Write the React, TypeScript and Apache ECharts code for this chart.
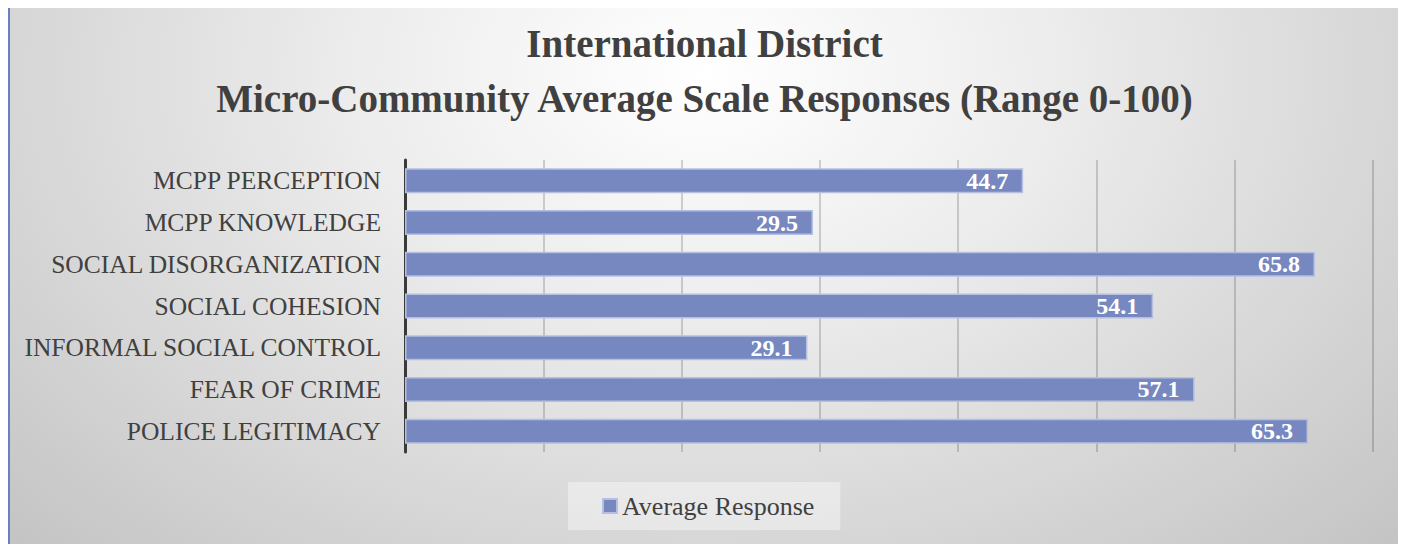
import React, { useEffect, useRef } from "react";
import * as echarts from "echarts";

const categories = [
  "MCPP PERCEPTION",
  "MCPP KNOWLEDGE",
  "SOCIAL DISORGANIZATION",
  "SOCIAL COHESION",
  "INFORMAL SOCIAL CONTROL",
  "FEAR OF CRIME",
  "POLICE LEGITIMACY",
];
const averageResponse = [44.7, 29.5, 65.8, 54.1, 29.1, 57.1, 65.3];
const titleLines = [
  "International District",
  "Micro-Community Average Scale Responses (Range 0-100)",
];
const seriesName = "Average Response";

const FONT = "'Liberation Serif', 'DejaVu Serif', serif";

export default function App() {
  const ref = useRef<HTMLDivElement>(null);
  useEffect(() => {
    if (!ref.current) return;
    const chart = echarts.init(ref.current, null, { renderer: "svg" });
    chart.setOption({
      animation: false,
      backgroundColor: "transparent",
      title: {
        text: titleLines.join("\n"),
        left: "center",
        top: 3,
        textStyle: {
          fontFamily: FONT,
          fontSize: 39,
          fontWeight: "bold",
          color: "#404040",
          lineHeight: 55,
        },
      },
      legend: {
        data: [seriesName],
        left: 558,
        top: 474,
        backgroundColor: "rgba(255,255,255,0.4)",
        padding: [11, 26, 11, 34],
        itemWidth: 14,
        itemHeight: 14,
        icon: "rect",
        itemGap: 4,
        textStyle: { fontFamily: FONT, fontSize: 26, color: "#404040" },
      },
      grid: { left: 395, top: 152, height: 292, right: 26 },
      xAxis: {
        type: "value",
        min: 0,
        max: 70,
        interval: 10,
        axisLabel: { show: false },
        axisLine: { show: false },
        axisTick: { show: false },
        splitLine: { show: true, lineStyle: { color: "rgba(0,0,0,0.22)", width: 1.5 } },
      },
      yAxis: {
        type: "category",
        data: categories,
        inverse: true,
        axisTick: { show: false },
        axisLine: { show: true, lineStyle: { color: "#3a3a3a", width: 3 } },
        axisLabel: {
          fontFamily: FONT,
          fontSize: 25.5,
          color: "#404040",
          margin: 24,
        },
      },
      series: [
        {
          name: seriesName,
          type: "bar",
          data: averageResponse,
          barWidth: "60%",
          itemStyle: {
            color: "#7688bf",
            borderColor: "#b4bfe2",
            borderWidth: 1.5,
          },
          label: {
            show: true,
            position: "insideRight",
            distance: 15,
            color: "#ffffff",
            fontFamily: FONT,
            fontWeight: "bold",
            fontSize: 24,
            formatter: (p: any) => p.value.toFixed(1),
          },
        },
      ],
    });
    return () => chart.dispose();
  }, []);
  return (
    <div
      style={{
        marginTop: -2,
        width: 1393,
        height: 560,
        boxSizing: "border-box",
        border: "2px solid #6b7fc6",
        background:
          "radial-gradient(ellipse 70% 120% at 50% 12%, #ffffff 0%, #ededed 35%, #c4c4c4 100%)",
      }}
    >
      <div ref={ref} style={{ width: "100%", height: "100%" }} />
    </div>
  );
}
